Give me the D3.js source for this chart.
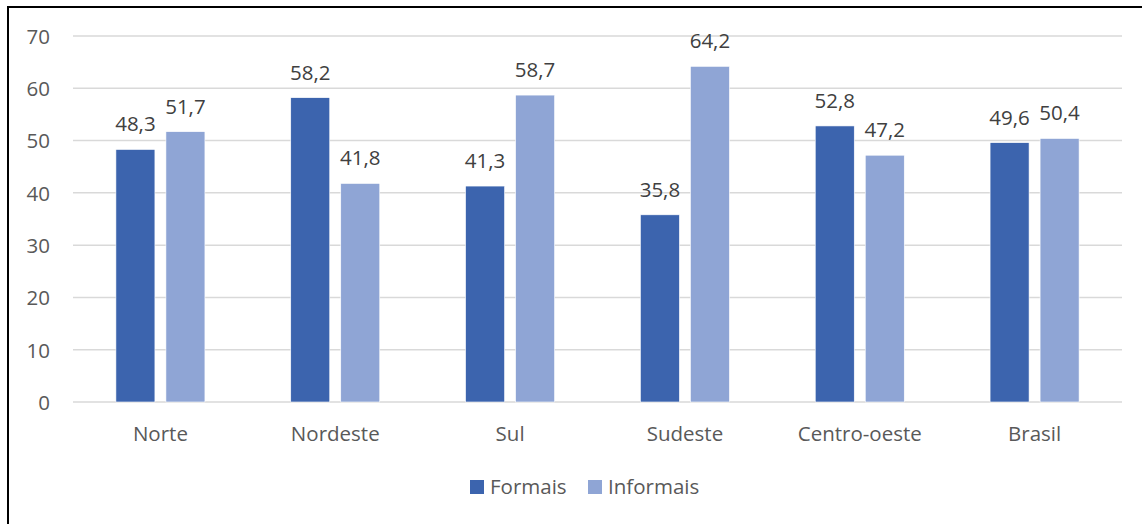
<!DOCTYPE html>
<html><head><meta charset="utf-8">
<script src="https://cdn.jsdelivr.net/npm/d3@7"></script>
<style>body{margin:0;background:#fff;} svg{display:block;}</style>
</head><body>
<svg id="c" width="1147" height="524"></svg>
<script>
const categories = ["Norte","Nordeste","Sul","Sudeste","Centro-oeste","Brasil"];
const formais = [48.3,58.2,41.3,35.8,52.8,49.6];
const informais = [51.7,41.8,58.7,64.2,47.2,50.4];
const seriesNames = ["Formais","Informais"];
const yTicks = [0,10,20,30,40,50,60,70];
const colors = ["#3C64AE","#8FA5D5"];

const svg = d3.select("#c");
const font = "'Open Sans', sans-serif";
const fs = 20.5;
// border
svg.append("path").attr("d","M8,524 V7 H1142").attr("fill","none").attr("stroke","#000").attr("stroke-width",2);

const x = d3.scaleBand().domain(categories).range([73,1122]);
const y = d3.scaleLinear().domain([0,70]).range([402,36]);
const xs = d3.scaleBand().domain(seriesNames).range([0,x.bandwidth()]).paddingInner(0.22).paddingOuter(0.858);

// gridlines
svg.append("g").selectAll("line").data(yTicks).join("line")
  .attr("x1",73).attr("x2",1122).attr("y1",d=>y(d)).attr("y2",d=>y(d))
  .attr("stroke","#D9D9D9").attr("stroke-width",1.5);

// y axis labels
const yAxis = d3.axisLeft(y).tickValues(yTicks).tickSize(0).tickPadding(0);
const ya = svg.append("g").attr("transform","translate(50,0)").call(yAxis);
ya.select(".domain").remove();
ya.selectAll("text").attr("font-family",font).attr("font-size",fs).attr("fill","#595959").attr("dy","0.36em");

// x axis labels
const xAxis = d3.axisBottom(x).tickSize(0).tickPadding(0);
const xa = svg.append("g").attr("transform","translate(0,441)").call(xAxis);
xa.select(".domain").remove();
xa.selectAll("text").attr("font-family",font).attr("font-size",fs).attr("fill","#595959").attr("y",0).attr("dy",0);

const data = categories.map((c,i)=>({c, vals:[formais[i],informais[i]]}));
const groups = svg.append("g").selectAll("g").data(data).join("g")
  .attr("transform",d=>`translate(${x(d.c)},0)`);
groups.selectAll("rect").data(d=>d.vals.map((v,j)=>({v,s:seriesNames[j],j}))).join("rect")
  .attr("x",d=>xs(d.s)).attr("width",xs.bandwidth())
  .attr("y",d=>y(d.v)).attr("height",d=>y(0)-y(d.v))
  .attr("fill",d=>colors[d.j]).attr("stroke","#fff").attr("stroke-width",0.6);
groups.selectAll("text").data(d=>d.vals.map((v,j)=>({v,s:seriesNames[j],j}))).join("text")
  .attr("x",d=>xs(d.s)+xs.bandwidth()/2).attr("y",d=>y(d.v)-18)
  .attr("text-anchor","middle").attr("font-family",font).attr("font-size",fs).attr("fill","#404040")
  .text(d=>d.v.toFixed(1).replace(".",","));

// legend
const leg = svg.append("g");
const legX = [470,588];
seriesNames.forEach((s,i)=>{
  leg.append("rect").attr("x",legX[i]).attr("y",480).attr("width",14).attr("height",14).attr("fill",colors[i]);
  leg.append("text").attr("x",legX[i]+20).attr("y",494).attr("font-family",font).attr("font-size",fs).attr("fill","#595959").text(s);
});
</script>
</body></html>
